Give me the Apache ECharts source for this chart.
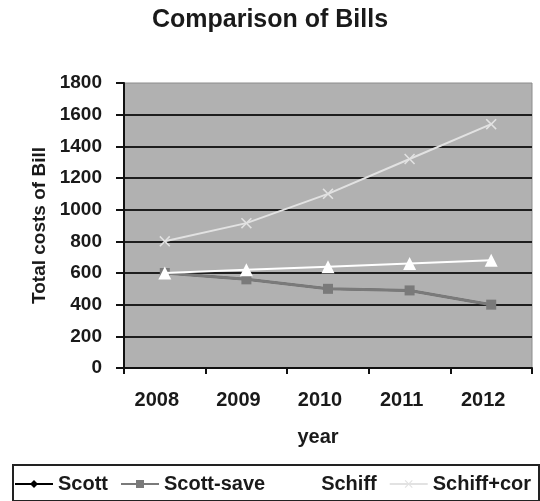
<!DOCTYPE html>
<html>
<head>
<meta charset="utf-8">
<script src="https://cdn.jsdelivr.net/npm/echarts@6/dist/echarts.min.js"></script>
<style>
  html, body { margin: 0; padding: 0; background: #ffffff; }
  #chart { width: 540px; height: 501px; }
</style>
</head>
<body>
<div id="chart"></div>
<script>
// Yearly bill totals
const years = ['2008', '2009', '2010', '2011', '2012'];
const scott = [600, 560, 500, 490, 400];
const scottSave = [600, 560, 500, 490, 400];
const schiff = [600, 620, 640, 660, 680];
const schiffCor = [800, 915, 1100, 1320, 1540];
const yTicks = [0, 200, 400, 600, 800, 1000, 1200, 1400, 1600, 1800];

const FONT = '"Liberation Sans", Arial, sans-serif';
const crossPath = 'path://M0,1 L1,0 L5,4 L9,0 L10,1 L6,5 L10,9 L9,10 L5,6 L1,10 L0,9 L4,5 Z';

const chart = echarts.init(document.getElementById('chart'), null, { renderer: 'canvas' });

chart.setOption({
  animation: false,
  backgroundColor: '#ffffff',
  title: {
    text: 'Comparison of Bills',
    left: 'center',
    top: 3,
    textStyle: { fontFamily: FONT, fontSize: 25, fontWeight: 'bold', color: '#1a1a1a' }
  },
  graphic: [
    {
      type: 'rect',
      left: 12, top: 464,
      shape: { width: 526, height: 36 },
      style: { fill: '#ffffff', stroke: '#222222', lineWidth: 2 },
      z: -1
    }
  ],
  legend: {
    left: 14,
    top: 474,
    width: 530,
    padding: 0,
    itemWidth: 38,
    itemHeight: 10,
    itemGap: 12,
    textStyle: { fontFamily: FONT, fontSize: 20, fontWeight: 'bold', color: '#1a1a1a' },
    data: ['Scott', 'Scott-save', 'Schiff', 'Schiff+cor']
  },
  grid: {
    left: 124, top: 83, width: 408, height: 285,
    show: true,
    backgroundColor: '#b1b1b1',
    borderColor: '#8c8c8c',
    borderWidth: 1
  },
  xAxis: {
    type: 'category',
    data: years,
    boundaryGap: true,
    name: 'year',
    nameLocation: 'middle',
    nameGap: 59,
    nameTextStyle: { fontFamily: FONT, fontSize: 20, fontWeight: 'bold', color: '#1a1a1a', padding: [0, 20, 0, 0] },
    axisLine: { lineStyle: { color: '#111111', width: 2 } },
    axisTick: { show: true, length: 6, lineStyle: { color: '#111111', width: 2 } },
    axisLabel: { margin: 22, padding: [0, 16, 0, 0], fontFamily: FONT, fontSize: 20, fontWeight: 'bold', color: '#1a1a1a' },
    splitLine: { show: false }
  },
  yAxis: {
    type: 'value',
    min: yTicks[0],
    max: yTicks[yTicks.length - 1],
    interval: yTicks[1] - yTicks[0],
    name: 'Total costs of Bill',
    nameLocation: 'middle',
    nameGap: 66,
    nameTextStyle: { fontFamily: FONT, fontSize: 19, fontWeight: 'bold', color: '#1a1a1a' },
    axisLine: { show: true, lineStyle: { color: '#111111', width: 2 } },
    axisTick: { show: true, length: 8, lineStyle: { color: '#111111', width: 2 } },
    axisLabel: {
      margin: 22, fontFamily: FONT, fontSize: 19, fontWeight: 'bold', color: '#1a1a1a',
      formatter: (v) => String(v)
    },
    splitLine: { show: true, showMaxLine: false, lineStyle: { color: '#1e1e1e', width: 2 } }
  },
  series: [
    {
      name: 'Scott', type: 'line', data: scott, z: 2,
      symbol: 'diamond', symbolSize: 8,
      lineStyle: { color: '#000000', width: 2 },
      itemStyle: { color: '#000000' }
    },
    {
      name: 'Scott-save', type: 'line', data: scottSave, z: 3,
      symbol: 'rect', symbolSize: 10,
      lineStyle: { color: '#7a7a7a', width: 3 },
      itemStyle: { color: '#7a7a7a' }
    },
    {
      name: 'Schiff', type: 'line', data: schiff, z: 4,
      symbol: 'triangle', symbolSize: 13,
      lineStyle: { color: '#ffffff', width: 2 },
      itemStyle: { color: '#ffffff' }
    },
    {
      name: 'Schiff+cor', type: 'line', data: schiffCor, z: 5,
      symbol: crossPath, symbolSize: 11,
      lineStyle: { color: '#e2e2e2', width: 2 },
      itemStyle: { color: '#e2e2e2' }
    }
  ]
});
</script>
</body>
</html>
